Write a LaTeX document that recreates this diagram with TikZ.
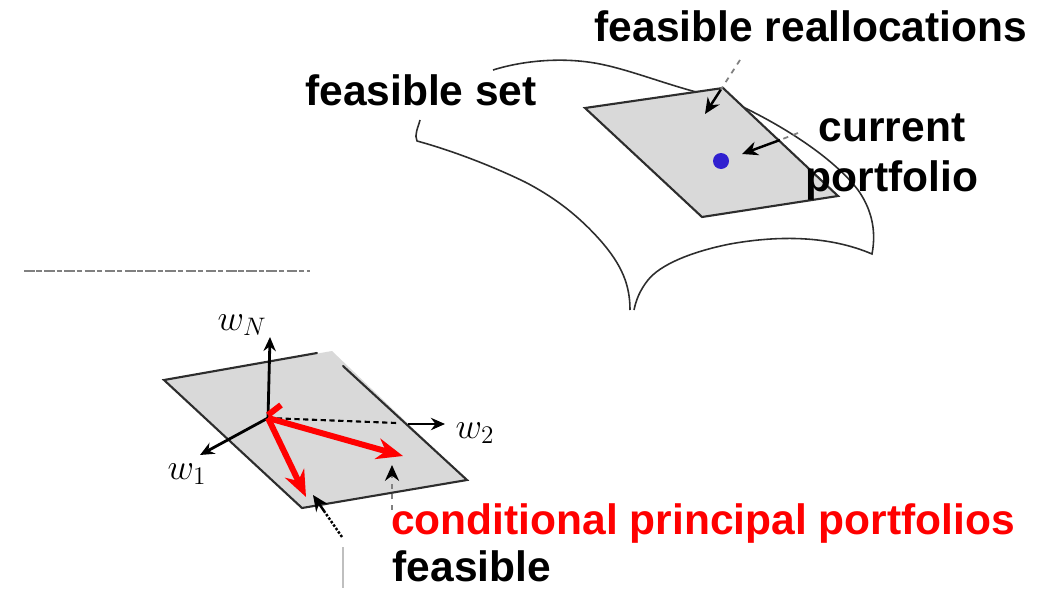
\documentclass[tikz,border=0pt]{standalone}
\usepackage{fontspec}
\setmainfont{Liberation Sans}
\usepackage{xcolor}
\usetikzlibrary{calc,arrows.meta}
\definecolor{planegray}{RGB}{217, 217, 217}
\definecolor{dotblue}{RGB}{48, 32, 208}
\definecolor{edgeblack}{RGB}{45, 45, 45}
\tikzset{
    caption/.style={font=\fontsize{24.2}{28}\selectfont\bfseries, inner sep=0pt},
    axislabel/.style={font=\fontsize{20}{24}\selectfont, inner sep=0pt},
    edge/.style={edgeblack, line width=1.2pt, line cap=round},
    pointer/.style={-{Stealth[length=9pt,width=8pt]}, black, line width=1.4pt},
    axisarrow/.style={-{Stealth[length=8pt,width=7pt]}, black, line width=1.6pt},
    redarrow/.style={-{Stealth[length=15pt,width=12pt]}, red, line width=3.4pt},
    leader/.style={gray, dashed, line width=1pt}
}

\begin{document}
\begin{tikzpicture}[x=0.02cm, y=-0.02cm]
    \useasboundingbox (0,0) rectangle (1047,588);

    % Feasible set outline
    \draw[edgeblack, line width=0.9pt] (493,70) .. controls (525,60) and (565,57) .. (600,64)
        .. controls (630,70) and (665,84) .. (700,93);
    \draw[edgeblack, line width=0.9pt] (745,108) .. controls (790,130) and (835,160) .. (858,190)
        .. controls (870,207) and (877,228) .. (872,254)
        .. controls (830,236) and (780,235) .. (730,244)
        .. controls (690,252) and (660,265) .. (648,280)
        .. controls (640,290) and (636,300) .. (634,310);
    \draw[edgeblack, line width=0.9pt] (630,310) .. controls (630,285) and (622,265) .. (600,240)
        .. controls (575,212) and (550,195) .. (525,182)
        .. controls (490,165) and (450,150) .. (417,141)
        .. controls (414,135) and (418,128) .. (420,120);

    % Upper plane
    \coordinate (A1) at (585,108);
    \coordinate (A2) at (723,88);
    \coordinate (A3) at (838,196);
    \coordinate (A4) at (702,217);
    \filldraw[edge, fill=planegray] (A1) -- (A2) -- (A3) -- (A4) -- cycle;
    \fill[dotblue] (721,161) circle (8);

    % Labels of upper part
    \node[caption] (Realloc) at (811,26) {feasible reallocations};
    \node[caption] (Set) at (421,90) {feasible set};
    \node[caption] (Current) at (892,128) {current};
    \node[caption] (Portfolio) at (892,181) {portfolio};

    % Pointers of upper part
    \coordinate (R0) at (740,60);
    \coordinate (R1) at (705,114);
    \draw[leader] (R0) -- ($(R0)!0.55!(R1)$);
    \draw[pointer] ($(R0)!0.55!(R1)$) -- (R1);
    \coordinate (C0) at (798,133);
    \coordinate (C1) at (780,140);
    \coordinate (C2) at (742,154);
    \draw[leader] (C0) -- (C1);
    \draw[pointer] (C1) -- (C2);

    % Cut off line of text
    \draw[gray, line width=1.4pt, dash pattern=on 6pt off 1pt on 3pt off 1.5pt] (24,271) -- (310,271);

    % Lower plane
    \coordinate (B1) at (164,380);
    \coordinate (B2) at (317,353);
    \coordinate (B3) at (332,351);
    \coordinate (B4) at (343,366);
    \coordinate (B5) at (467,480);
    \coordinate (B6) at (302,508);
    \fill[planegray] (B1) -- (B3) -- (B5) -- (B6) -- cycle;
    \draw[edge] (B2) -- (B1) -- (B6) -- (B5) -- (B4);

    % Axes
    \coordinate (O) at (268,418);
    \coordinate (WN) at (270,337);
    \coordinate (W1) at (200,455);
    \coordinate (W2) at (445,424);
    \draw[axisarrow] (O) -- (WN);
    \draw[black, line width=1.2pt, densely dashed] (O) -- (397,423);
    \draw[axisarrow] (408,424) -- (W2);
    \draw[axisarrow] (O) -- (W1);
    \node[axislabel] (LabN) at (242,325) {$w_N$};
    \node[axislabel] (Lab2) at (475,433) {$w_2$};
    \node[axislabel] (Lab1) at (187,474) {$w_1$};

    % Conditional principal portfolios
    \coordinate (P1) at (403,456);
    \coordinate (P2) at (306,497);
    \draw[red, line width=3.4pt] (268,415) -- (281,405);
    \draw[redarrow] (O) -- (P1);
    \draw[redarrow] (O) -- (P2);

    % Lower labels and pointers
    \node[caption, text=red] (Cond) at (703,523) {conditional principal portfolios};
    \node[caption] (Feas) at (472,566) {feasible};
    \coordinate (D0) at (392,510);
    \coordinate (D1) at (392,465);
    \draw[leader] (D0) -- ($(D0)!0.75!(D1)$);
    \draw[pointer] ($(D0)!0.75!(D1)$) -- (D1);
    \coordinate (E0) at (342,537);
    \coordinate (E1) at (313,495);
    \draw[black, densely dotted, line width=1.4pt] (E0) -- ($(E0)!0.6!(E1)$);
    \draw[pointer] ($(E0)!0.6!(E1)$) -- (E1);
    \draw[lightgray, line width=0.6pt] (343,547) -- (343,588);
\end{tikzpicture}
\end{document}
